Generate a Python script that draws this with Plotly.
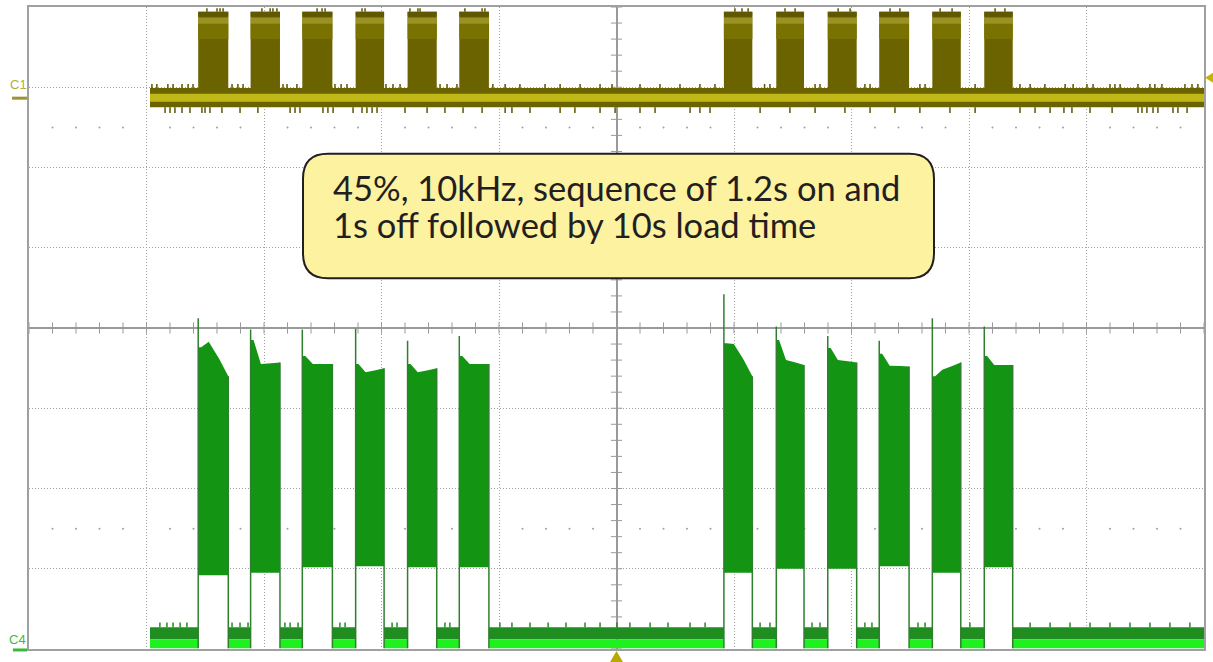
import plotly.graph_objects as go

##############################################################################

# DATA (time in s at 5 s/div with trigger at centre, levels in divisions)

burst_start = [-17.80, -15.57, -13.37, -11.10, -8.89, -6.69, 4.57, 6.80, 8.99, 11.18, 13.44, 15.65]
burst_end = [-16.52, -14.32, -12.09, -9.89, -7.65, -5.43, 5.78, 7.98, 10.22, 12.45, 14.65, 16.86]
trace_start = -19.85
trace_end = 25.0

# C1 (gate signal)
c1_low = [2.75, 2.99]
c1_low_bright = [2.82, 2.92]
c1_high = 3.94
c1_high_light = [3.79, 3.87]
c1_high_mid = [3.60, 3.79]
c1_spikes_up = [-19.77, -19.56, -19.09, -18.87, -18.49, -18.23, -18.02, -16.36, -16.11, -15.89,
                -14.19, -14.02, -13.60, -11.98, -11.72, -11.47, -9.81, -9.51, -9.21, -7.51,
                -7.21, -6.79, -5.26, -4.74, -4.11, -3.04, -2.40, -1.55, -0.70, -0.19, 1.00,
                1.85, 2.70, 3.55, 4.19, 6.30, 6.53, 8.45, 8.66, 10.57, 10.79, 12.91, 13.13,
                15.26, 17.17, 17.60, 18.23, 19.09, 19.43, 20.02, 20.28, 21.00, 21.21, 21.43,
                22.19, 22.70, 22.91, 23.21, 24.19, 24.49, 24.74]
c1_spikes_down = [-19.21, -19.00, -18.79, -18.49, -18.15, -17.64, -17.51, -17.30, -16.79, -16.02,
                  -15.26, -13.89, -13.68, -13.47, -12.49, -12.28, -12.06, -11.21, -10.83, -10.62,
                  -10.40, -10.19, -9.00, -8.06, -7.30, -6.53, -5.72, -4.74, -4.45, -3.68, -2.40,
                  -1.77, -0.70, -0.06, 1.00, 1.64, 3.13, 3.55, 3.98, 6.11, 7.38, 8.45, 9.72,
                  10.79, 11.85, 12.91, 14.19, 15.26, 17.17, 17.81, 18.45, 19.04, 19.38, 20.15,
                  21.09, 22.19, 22.36, 22.57, 22.83, 23.04, 23.68, 23.89, 24.28]
c1_spikes_high = [-17.43, -17.00, -16.87, -16.74, -15.09, -14.74, -14.62, -14.45, -12.74, -12.53,
                  -12.40, -10.83, -10.70, -8.79, -8.45, -8.36, -6.45, -5.72, -5.60, 5.04, 5.34,
                  5.60, 7.17, 7.60, 9.43, 9.94, 11.64, 12.06, 13.77, 14.28, 16.11, 16.53]

# C4 (load current)
c4_spike = [0.12, -0.02, -0.02, -0.01, -0.16, -0.10, 0.42, 0.02, -0.10, -0.16, 0.12, 0.02]
c4_top_first = [-0.24, -0.15, -0.35, -0.45, -0.45, -0.35, -0.19, -0.15, -0.25, -0.32, -0.60, -0.35]
c4_top_mid = [-0.17, -0.45, -0.45, -0.55, -0.55, -0.45, -0.20, -0.40, -0.40, -0.47, -0.52, -0.46]
c4_top_last = [-0.60, -0.43, -0.45, -0.50, -0.50, -0.45, -0.60, -0.46, -0.43, -0.48, -0.43, -0.46]
c4_bottom = [-3.08, -3.05, -2.98, -2.97, -2.98, -2.98, -3.05, -3.00, -3.00, -2.97, -3.05, -2.98]
c4_low = [-3.88, -3.73]
c4_low_bright = [-3.99, -3.88]
c4_spikes = [-19.43, -19.13, -18.87, -18.57, -18.28, -16.36, -16.02, -15.68, -14.11, -13.89,
             -13.55, -11.77, -11.55, -9.55, -9.34, -7.30, -7.09, -4.96, -4.45, -3.68, -2.91,
             -2.15, -1.34, -0.70, 0.02, 0.57, 1.43, 2.19, 3.13, 3.77, 6.11, 6.53, 8.32, 8.66,
             10.57, 10.87, 12.83, 13.13, 15.04, 17.60, 18.45, 19.30, 20.15, 21.00, 21.85,
             22.70, 23.55, 24.40]

note_lines = ["45%, 10kHz, sequence of 1.2s on and", "1s off followed by 10s load time"]

##############################################################################

# HELPERS


def rects(x0s, x1s, y0, y1):
    xs, ys = [], []
    for a, b in zip(x0s, x1s):
        xs += [a, b, b, a, a, None]
        ys += [y0, y0, y1, y1, y0, None]
    return xs, ys


def segs(xpos, y0, y1):
    xs, ys = [], []
    for x in xpos:
        xs += [x, x, None]
        ys += [y0, y1, None]
    return xs, ys


def area(xy, color):
    return go.Scatter(x=xy[0], y=xy[1], fill="toself", fillcolor=color, mode="none",
                      hoverinfo="skip")


def lines(xy, color, width=1.5):
    return go.Scatter(x=xy[0], y=xy[1], mode="lines", line=dict(color=color, width=width),
                      hoverinfo="skip")


##############################################################################

# SCOPE GRATICULE (centre axes with minor ticks, dot rows)

minor_x = [i for i in range(-25, 26)]
minor_y = [i / 5 for i in range(-20, 21)]
dot_x = [i for i in range(-24, 25) if i % 5 != 0]

graticule = [
    go.Scatter(x=minor_x, y=[0] * len(minor_x), mode="markers", hoverinfo="skip",
               marker=dict(symbol="line-ns", size=8, line=dict(width=1, color="#9a9a9a"))),
    go.Scatter(x=[0] * len(minor_y), y=minor_y, mode="markers", hoverinfo="skip",
               marker=dict(symbol="line-ew", size=8, line=dict(width=1, color="#9a9a9a"))),
    go.Scatter(x=dot_x * 2, y=[2.5] * len(dot_x) + [-2.5] * len(dot_x), mode="markers",
               hoverinfo="skip", marker=dict(size=2, color="#a0a0a0")),
]

##############################################################################

# C1 TRACE

c1 = [
    area(rects(burst_start, burst_end, c1_low[1], c1_high), "#6b6300"),
    area(rects(burst_start, burst_end, c1_high_mid[0], c1_high_mid[1]), "#7a7200"),
    area(rects(burst_start, burst_end, c1_high_light[0], c1_high_light[1]), "#9a9222"),
    area(rects(burst_start, burst_end, c1_high - 0.06, c1_high), "#5f5800"),
    area(rects([trace_start], [trace_end], c1_low[0], c1_low[1]), "#6b6300"),
    area(rects([trace_start], [trace_end], c1_low_bright[0], c1_low_bright[1]), "#c0b816"),
    lines(segs(c1_spikes_up, c1_low[1], c1_low[1] + 0.05), "#5c5500"),
    lines(segs(c1_spikes_down, c1_low[0], c1_low[0] - 0.07), "#5c5500"),
    lines(segs(c1_spikes_high, c1_high, c1_high + 0.045), "#5c5500"),
]

##############################################################################

# C4 TRACE

gap_start = [trace_start] + burst_end
gap_end = burst_start + [trace_end]

env_x, env_y = [], []
for s, e, a, m, l, b in zip(burst_start, burst_end, c4_top_first, c4_top_mid, c4_top_last,
                            c4_bottom):
    w = e - s
    env_x += [s, s, s + 0.1 * w, s + 0.35 * w, s + 0.7 * w, e, e, s, None]
    env_y += [b, a, a, m, (m + l) / 2, l, b, b, None]

edge_x, edge_y = [], []
for s, e, sp, l in zip(burst_start, burst_end, c4_spike, c4_top_last):
    edge_x += [s, s, None, e, e, None]
    edge_y += [c4_low_bright[0], sp, None, c4_low_bright[0], l, None]

c4 = [
    area(rects(gap_start, gap_end, c4_low[0], c4_low[1]), "#1f8d1f"),
    area(rects(gap_start, gap_end, c4_low_bright[0], c4_low_bright[1]), "#1ff01f"),
    lines(segs(c4_spikes, c4_low[1], c4_low[1] + 0.06), "#1f8d1f"),
    area((env_x, env_y), "#139413"),
    lines((edge_x, edge_y), "#2f7f2f", 1.5),
]

##############################################################################

# NOTE BOX (rounded rectangle in data units)

bx0, bx1, by0, by1 = -13.34, 13.51, 0.62, 2.17
rx, ry = 1.06, 0.31
box_path = (
    f"M {bx0 + rx},{by1} L {bx1 - rx},{by1} Q {bx1},{by1} {bx1},{by1 - ry} "
    f"L {bx1},{by0 + ry} Q {bx1},{by0} {bx1 - rx},{by0} L {bx0 + rx},{by0} "
    f"Q {bx0},{by0} {bx0},{by0 + ry} L {bx0},{by1 - ry} Q {bx0},{by1} {bx0 + rx},{by1} Z"
)

shapes = [
    dict(type="path", path=box_path, xref="x", yref="y", fillcolor="#fcf2a0",
         line=dict(color="#231f20", width=2)),
    # channel ground markers
    dict(type="line", xref="paper", yref="paper", x0=-0.0145, x1=-0.0017, y0=0.858, y1=0.858,
         line=dict(color="#9c9430", width=3)),
    dict(type="line", xref="paper", yref="paper", x0=-0.0137, x1=-0.0017, y0=-0.0015,
         y1=-0.0015, line=dict(color="#3ab83a", width=3)),
    # trigger level / position arrows
    dict(type="path", xref="paper", yref="paper", path="M 1.0009,0.8898 L 1.0077,0.8975 L 1.0077,0.882 Z",
         fillcolor="#c8b400", line=dict(width=0)),
    dict(type="path", xref="paper", yref="paper", path="M 0.5,-0.0031 L 0.5055,-0.0202 L 0.4945,-0.0202 Z",
         fillcolor="#b8a800", line=dict(width=0)),
]

annotations = [
    dict(x=-12.15, y=1.75, xref="x", yref="y", text=note_lines[0], showarrow=False,
         xanchor="left", yanchor="middle", font=dict(family="Lato", size=34.5, color="#231f20")),
    dict(x=-12.15, y=1.29, xref="x", yref="y", text=note_lines[1], showarrow=False,
         xanchor="left", yanchor="middle", font=dict(family="Lato", size=34.5, color="#231f20")),
    dict(x=-0.0089, y=0.879, xref="paper", yref="paper", text="C1", showarrow=False,
         xanchor="center", yanchor="middle",
         font=dict(family="Liberation Sans", size=13, color="#b5ad3c")),
    dict(x=-0.0102, y=0.0148, xref="paper", yref="paper", text="C4", showarrow=False,
         xanchor="center", yanchor="middle",
         font=dict(family="Liberation Sans", size=13, color="#3cbc3c")),
]

##############################################################################

# LAYOUT

axis_common = dict(
    showgrid=True,
    gridcolor="#a0a0a0",
    griddash="1px,2px",
    gridwidth=1,
    zeroline=True,
    zerolinecolor="#9a9a9a",
    zerolinewidth=1.5,
    showline=True,
    linecolor="#a0a0a0",
    linewidth=2,
    mirror=True,
    showticklabels=False,
    ticks="",
    fixedrange=True,
)

layout = go.Layout(
    width=1213,
    height=662,
    margin=dict(l=29, r=9, t=5, b=13),
    plot_bgcolor="white",
    paper_bgcolor="white",
    showlegend=False,
    xaxis=dict(range=[-25, 25], dtick=5, tick0=0, **axis_common),
    yaxis=dict(range=[-4, 4], dtick=1, tick0=0, **axis_common),
    shapes=shapes,
    annotations=annotations,
)

fig = go.Figure(data=graticule + c1 + c4, layout=layout)

# page body has a default 8px margin; drop it so the figure fills the window
fig.write_html(
    "out.html",
    config={"displayModeBar": False},
    post_script="document.body.style.margin='0';document.body.style.overflow='hidden';",
)
